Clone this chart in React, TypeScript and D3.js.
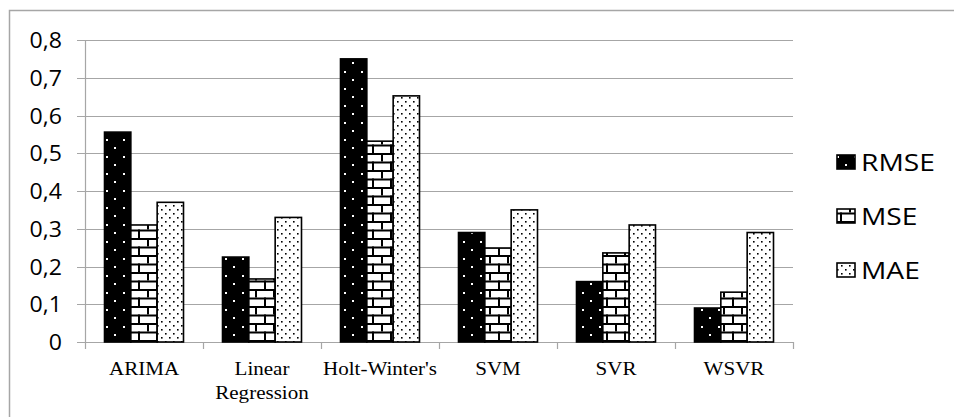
import React, { useRef, useEffect } from "react";
import * as d3 from "d3";

const categories: string[][] = [
  ["ARIMA"],
  ["Linear", "Regression"],
  ["Holt-Winter's"],
  ["SVM"],
  ["SVR"],
  ["WSVR"],
];
const seriesNames = ["RMSE", "MSE", "MAE"];
const rmse = [0.556, 0.225, 0.75, 0.29, 0.16, 0.09];
const mse = [0.31, 0.167, 0.532, 0.249, 0.236, 0.132];
const mae = [0.37, 0.33, 0.652, 0.35, 0.31, 0.29];
const yTicks = [0, 0.1, 0.2, 0.3, 0.4, 0.5, 0.6, 0.7, 0.8];

const width = 954;
const height = 417;
const gridColor = "#a6a6a6";

const App: React.FC = () => {
  const ref = useRef<SVGSVGElement>(null);

  useEffect(() => {
    const svg = d3.select(ref.current);
    svg.selectAll("*").remove();
    svg.attr("width", width).attr("height", height);

    const values = [rmse, mse, mae];
    const catKeys = categories.map((c) => c.join(" "));

    const x = d3.scaleBand<string>().domain(catKeys).range([85, 793]);
    const xs = d3
      .scaleBand<string>()
      .domain(seriesNames)
      .range([19.5, x.bandwidth() - 19.5]);
    const y = d3.scaleLinear().domain([0, 0.8]).range([342, 40]);

    // patterns
    const defs = svg.append("defs");
    const p1 = defs
      .append("pattern")
      .attr("id", "pat-rmse")
      .attr("patternUnits", "userSpaceOnUse")
      .attr("width", 17)
      .attr("height", 17);
    p1.append("rect").attr("width", 17).attr("height", 17).attr("fill", "#000");
    p1.append("rect").attr("x", 4).attr("y", 3).attr("width", 2).attr("height", 2).attr("fill", "#fff");
    p1.append("rect").attr("x", 12).attr("y", 11).attr("width", 2).attr("height", 2).attr("fill", "#fff");

    const p2 = defs
      .append("pattern")
      .attr("id", "pat-mse")
      .attr("patternUnits", "userSpaceOnUse")
      .attr("width", 18)
      .attr("height", 17);
    p2.append("rect").attr("width", 18).attr("height", 17).attr("fill", "#fff");
    p2.append("rect").attr("x", 0).attr("y", 0).attr("width", 18).attr("height", 2).attr("fill", "#000");
    p2.append("rect").attr("x", 0).attr("y", 8.5).attr("width", 18).attr("height", 2).attr("fill", "#000");
    p2.append("rect").attr("x", 3).attr("y", 0).attr("width", 2).attr("height", 8.5).attr("fill", "#000");
    p2.append("rect").attr("x", 12).attr("y", 8.5).attr("width", 2).attr("height", 8.5).attr("fill", "#000");

    const p3 = defs
      .append("pattern")
      .attr("id", "pat-mae")
      .attr("patternUnits", "userSpaceOnUse")
      .attr("width", 8)
      .attr("height", 8);
    p3.append("rect").attr("width", 8).attr("height", 8).attr("fill", "#fff");
    p3.append("rect").attr("x", 1).attr("y", 1).attr("width", 1.6).attr("height", 1.6).attr("fill", "#000");
    p3.append("rect").attr("x", 5).attr("y", 5).attr("width", 1.6).attr("height", 1.6).attr("fill", "#000");

    const fills = ["url(#pat-rmse)", "url(#pat-mse)", "url(#pat-mae)"];

    // outer border
    svg
      .append("rect")
      .attr("x", 9.5)
      .attr("y", 10.5)
      .attr("width", 960)
      .attr("height", 420)
      .attr("fill", "#fff")
      .attr("stroke", gridColor)
      .attr("stroke-width", 1.5);

    // gridlines
    svg
      .append("g")
      .selectAll("line")
      .data(yTicks)
      .join("line")
      .attr("x1", 77)
      .attr("x2", 793)
      .attr("y1", (d) => Math.round(y(d)) + 0.5)
      .attr("y2", (d) => Math.round(y(d)) + 0.5)
      .attr("stroke", gridColor)
      .attr("stroke-width", 1.2);

    // y axis line
    svg
      .append("line")
      .attr("x1", 85.5)
      .attr("x2", 85.5)
      .attr("y1", y(0.8))
      .attr("y2", y(0))
      .attr("stroke", gridColor)
      .attr("stroke-width", 1.2);

    // x ticks at category boundaries
    const bounds = catKeys.map((k) => x(k) as number).concat([793]);
    svg
      .append("g")
      .selectAll("line")
      .data(bounds)
      .join("line")
      .attr("x1", (d) => Math.round(d) + 0.5)
      .attr("x2", (d) => Math.round(d) + 0.5)
      .attr("y1", y(0))
      .attr("y2", y(0) + 7)
      .attr("stroke", gridColor)
      .attr("stroke-width", 1.2);

    // bars
    const bars = svg.append("g");
    catKeys.forEach((k, i) => {
      seriesNames.forEach((s, j) => {
        const v = values[j][i];
        bars
          .append("rect")
          .attr("x", (x(k) as number) + (xs(s) as number))
          .attr("y", y(v))
          .attr("width", xs.bandwidth())
          .attr("height", y(0) - y(v))
          .attr("fill", fills[j])
          .attr("stroke", "#000")
          .attr("stroke-width", 1.6);
      });
    });

    // y tick labels
    svg
      .append("g")
      .selectAll("text")
      .data(yTicks)
      .join("text")
      .attr("transform", (d) => `translate(62, ${y(d) + 8}) scale(1.05, 1)`)
      .attr("text-anchor", "end")
      .attr("font-family", "'Open Sans', sans-serif")
      .attr("font-size", 22)
      .attr("fill", "#000")
      .text((d) => (d === 0 ? "0" : d3.format(".1f")(d).replace(".", ",")));

    // x labels
    const xl = svg.append("g");
    categories.forEach((lines, i) => {
      const cx = (x(catKeys[i]) as number) + x.bandwidth() / 2;
      lines.forEach((line, li) => {
        xl.append("text")
          .attr("transform", `translate(${cx}, ${375 + li * 24}) scale(1.08, 1)`)
          .attr("text-anchor", "middle")
          .attr("font-family", "'Liberation Serif', 'Times New Roman', serif")
          .attr("font-size", 19.5)
          .attr("fill", "#000")
          .text(line);
      });
    });

    // legend
    const legend = svg.append("g");
    seriesNames.forEach((s, j) => {
      const cy = 162 + j * 54;
      legend
        .append("rect")
        .attr("x", 837)
        .attr("y", cy - 7)
        .attr("width", 18)
        .attr("height", 14)
        .attr("fill", fills[j])
        .attr("stroke", "#000")
        .attr("stroke-width", 1.6);
      legend
        .append("text")
        .attr("transform", `translate(861, ${cy + 8.5}) scale(1.2, 1)`)
        .attr("font-family", "'Open Sans', sans-serif")
        .attr("font-size", 23.5)
        .attr("fill", "#000")
        .text(s);
    });
  }, []);

  return (
    <svg
      ref={ref}
      style={{ position: "absolute", left: 0, top: 0, display: "block" }}
    ></svg>
  );
};

export default App;
